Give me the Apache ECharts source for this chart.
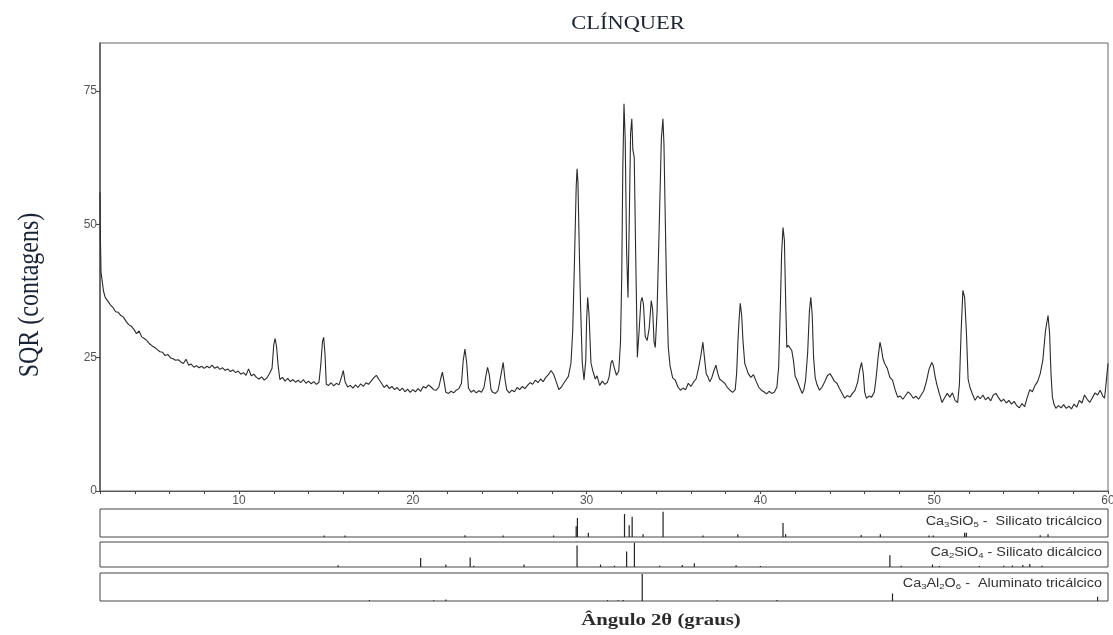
<!DOCTYPE html>
<html><head><meta charset="utf-8">
<script src="https://cdn.jsdelivr.net/npm/echarts@6/dist/echarts.min.js"></script>
<style>html,body{margin:0;padding:0;background:#fff}#c{width:1113px;height:635px}</style>
</head><body><div id="c"></div>
<script>
// Main diffractogram: [2θ (graus), SQR (contagens)]
const xrdPattern = [
[2.0,56],[2.02,48],[2.06,41],[2.12,39.5],[2.2,37.5],[2.3,36.3],[2.45,35.6],[2.6,34.9],[2.75,34.4],[2.9,33.6],[3.05,33.5],[3.2,32.9],[3.35,32.6],[3.5,31.8],[3.65,31.2],[3.8,30.9],[3.95,30.3],[4.1,29.5],[4.25,30.0],[4.4,28.9],[4.55,28.6],[4.7,28.2],[4.85,27.6],[5.0,27.2],[5.15,26.9],[5.3,26.5],[5.45,26.1],[5.6,26.0],[5.75,25.4],[5.9,25.6],[6.05,25.0],[6.2,24.8],[6.35,24.5],[6.5,24.6],[6.65,24.2],[6.8,23.9],[6.95,24.7],[7.1,23.6],[7.25,23.8],[7.4,23.2],[7.55,23.5],[7.7,23.1],[7.85,23.4],[8.0,23.0],[8.15,23.4],[8.3,23.1],[8.45,23.6],[8.6,23.0],[8.75,23.3],[8.9,22.8],[9.05,23.1],[9.2,22.6],[9.35,22.9],[9.5,22.4],[9.65,22.7],[9.8,22.2],[9.95,22.5],[10.1,21.9],[10.25,22.2],[10.4,21.7],[10.55,22.9],[10.7,21.6],[10.85,21.9],[11.0,21.3],[11.15,21.0],[11.3,21.4],[11.45,20.8],[11.6,21.2],[11.75,22.0],[11.9,23.0],[12.0,27.5],[12.08,28.6],[12.16,27.0],[12.25,23.5],[12.35,20.9],[12.5,21.3],[12.65,20.6],[12.8,21.1],[12.95,20.5],[13.1,20.9],[13.25,20.4],[13.4,20.8],[13.55,20.3],[13.7,20.9],[13.85,20.2],[14.0,20.6],[14.15,20.1],[14.3,20.5],[14.45,20.0],[14.6,20.4],[14.7,23.5],[14.8,28.0],[14.87,28.8],[14.95,25.5],[15.02,20.0],[15.15,19.8],[15.3,20.3],[15.45,19.7],[15.6,20.2],[15.75,19.9],[15.9,21.4],[16.0,22.6],[16.1,20.5],[16.25,19.5],[16.4,19.8],[16.55,19.3],[16.7,19.9],[16.85,19.4],[17.0,20.1],[17.15,19.6],[17.3,20.3],[17.45,20.0],[17.6,20.6],[17.75,21.2],[17.9,21.7],[18.05,20.9],[18.2,20.2],[18.35,19.4],[18.5,19.9],[18.65,19.2],[18.8,19.6],[18.95,19.0],[19.1,19.4],[19.25,18.8],[19.4,19.3],[19.55,18.6],[19.7,19.1],[19.85,18.5],[20.0,19.0],[20.15,18.6],[20.3,19.2],[20.45,18.7],[20.6,19.6],[20.75,19.3],[20.9,19.9],[21.05,19.5],[21.2,19.0],[21.35,18.9],[21.5,19.5],[21.6,21.0],[21.7,22.3],[21.8,20.5],[21.9,18.5],[22.05,18.3],[22.2,18.7],[22.35,18.4],[22.5,18.9],[22.65,19.2],[22.8,20.2],[22.9,24.5],[23.0,26.6],[23.1,24.0],[23.2,19.3],[23.35,18.5],[23.5,18.9],[23.65,18.4],[23.8,18.8],[23.95,18.5],[24.1,19.5],[24.2,21.5],[24.3,23.2],[24.4,21.8],[24.5,19.0],[24.6,18.5],[24.75,18.3],[24.9,18.8],[25.0,20.5],[25.1,22.3],[25.2,24.1],[25.3,21.0],[25.4,19.0],[25.55,18.4],[25.7,18.9],[25.85,18.6],[26.0,19.4],[26.15,19.0],[26.3,19.6],[26.45,19.2],[26.6,19.8],[26.75,20.3],[26.9,20.0],[27.05,20.8],[27.2,20.3],[27.35,21.0],[27.5,20.5],[27.65,21.3],[27.8,21.8],[27.95,22.6],[28.1,21.9],[28.25,20.5],[28.4,19.0],[28.55,19.5],[28.7,20.3],[28.85,21.0],[28.95,21.5],[29.1,24.0],[29.2,30.0],[29.3,43.0],[29.4,57.0],[29.45,60.4],[29.5,58],[29.58,45.0],[29.65,35.0],[29.75,24.0],[29.85,20.8],[29.95,24.5],[30.0,32.0],[30.06,36.3],[30.14,33.0],[30.25,24.0],[30.35,22.6],[30.5,21.0],[30.6,21.6],[30.75,19.8],[30.9,20.6],[31.05,20.0],[31.2,20.4],[31.3,21.5],[31.4,24.0],[31.48,24.5],[31.6,23.0],[31.72,21.7],[31.85,22.5],[31.95,28.0],[32.02,40.0],[32.08,60],[32.15,72.6],[32.22,66],[32.3,45],[32.38,36.3],[32.45,50],[32.53,67],[32.6,69.8],[32.66,64],[32.74,62.5],[32.82,45],[32.92,25.1],[33.02,30.0],[33.12,35.5],[33.19,36.3],[33.27,35.0],[33.37,29.0],[33.48,28.2],[33.6,30.5],[33.72,35.7],[33.8,34.0],[33.88,28.0],[33.95,26.9],[34.05,33.3],[34.18,50.0],[34.3,66.0],[34.39,69.8],[34.45,65],[34.52,52.0],[34.6,38.0],[34.7,26.9],[34.8,23.5],[34.95,21.2],[35.1,20.8],[35.25,19.5],[35.4,18.9],[35.55,19.3],[35.7,19.0],[35.85,20.2],[36.0,19.6],[36.15,20.4],[36.3,21.0],[36.45,23.2],[36.58,25.5],[36.69,27.9],[36.78,25.0],[36.88,22.0],[36.98,21.4],[37.08,20.5],[37.2,21.2],[37.32,22.5],[37.44,23.6],[37.55,22.0],[37.65,21.0],[37.8,20.6],[37.95,20.2],[38.1,19.4],[38.25,18.9],[38.4,18.5],[38.55,19.0],[38.63,22.0],[38.72,29.0],[38.78,32.5],[38.84,35.2],[38.92,33],[39.0,28.0],[39.1,23.9],[39.2,23.0],[39.3,22.0],[39.45,21.3],[39.6,21.8],[39.75,20.6],[39.9,19.5],[40.05,18.9],[40.2,18.6],[40.35,18.2],[40.5,18.7],[40.65,18.3],[40.8,18.5],[40.95,19.5],[41.05,23.2],[41.15,35.0],[41.22,44.5],[41.3,49.4],[41.38,47.0],[41.45,36],[41.52,26.9],[41.6,27.3],[41.7,27.0],[41.8,26.4],[41.9,24.5],[42.0,21.5],[42.1,20.8],[42.25,19.5],[42.4,18.3],[42.5,19.0],[42.6,20.8],[42.72,26.0],[42.82,33.8],[42.9,36.3],[42.98,33.0],[43.06,25.0],[43.15,21.3],[43.25,20.0],[43.4,18.9],[43.55,19.5],[43.7,20.5],[43.85,21.6],[44.0,22.0],[44.1,21.5],[44.25,20.6],[44.4,20.2],[44.55,19.2],[44.7,18.3],[44.85,17.4],[45.0,17.9],[45.15,17.6],[45.3,18.3],[45.45,18.9],[45.6,20.5],[45.7,22.5],[45.82,24.1],[45.92,22.0],[46.0,18.5],[46.1,17.4],[46.25,17.8],[46.4,17.6],[46.55,18.5],[46.65,21.0],[46.77,25.0],[46.88,27.9],[46.97,26.5],[47.05,24.8],[47.15,23.9],[47.3,23.0],[47.45,21.3],[47.6,20.8],[47.75,19.0],[47.9,17.6],[48.05,17.8],[48.2,17.2],[48.35,17.9],[48.5,18.6],[48.65,18.1],[48.8,17.4],[48.95,17.8],[49.1,17.2],[49.25,18.0],[49.4,18.8],[49.55,20.5],[49.7,22.8],[49.86,24.1],[49.95,23.5],[50.05,21.5],[50.15,20.0],[50.3,18.2],[50.45,16.6],[50.6,17.5],[50.75,18.3],[50.9,17.6],[51.05,18.4],[51.2,17.0],[51.35,16.6],[51.45,20.0],[51.55,30.0],[51.65,37.6],[51.75,36.3],[51.85,30.0],[51.95,21.0],[52.05,19.5],[52.2,18.2],[52.35,17.0],[52.5,17.8],[52.65,17.3],[52.8,18.0],[52.95,17.1],[53.1,17.6],[53.25,16.9],[53.4,18.0],[53.55,18.3],[53.7,17.5],[53.85,16.8],[54.0,17.2],[54.15,16.5],[54.3,17.0],[54.45,16.3],[54.6,16.8],[54.75,16.0],[54.9,15.6],[55.05,16.4],[55.2,15.8],[55.35,17.5],[55.5,19.0],[55.65,18.6],[55.8,19.8],[55.95,20.5],[56.1,22.0],[56.25,24.5],[56.4,30.0],[56.55,32.9],[56.64,29.5],[56.72,22.0],[56.8,17.6],[56.9,16.2],[57.0,15.5],[57.15,16.0],[57.3,15.6],[57.45,16.2],[57.6,15.5],[57.75,15.9],[57.9,15.4],[58.05,16.3],[58.2,15.7],[58.35,17.0],[58.5,16.5],[58.65,18.0],[58.8,17.2],[58.95,16.6],[59.1,17.5],[59.25,18.4],[59.4,18.0],[59.55,18.9],[59.7,17.8],[59.8,17.4],[59.9,20.5],[60.0,23.9]
];

// Reference stick patterns (position 2θ, relative intensity 0..1)
const c3sPos = [14.9, 16.1, 23.0, 25.2, 28.1, 29.4, 29.47, 30.1, 32.18, 32.45, 32.62, 33.25, 34.4, 36.7, 38.7, 41.3, 41.45, 45.8, 46.9, 49.7, 49.95, 51.75, 51.85, 56.1, 56.55];
const c3sInt = [0.05, 0.05, 0.06, 0.05, 0.05, 0.38, 0.68, 0.15, 0.82, 0.42, 0.72, 0.1, 0.9, 0.05, 0.1, 0.5, 0.1, 0.07, 0.1, 0.05, 0.05, 0.15, 0.15, 0.06, 0.1];
const c2sPos = [15.7, 20.45, 21.9, 23.3, 23.5, 26.4, 29.45, 30.8, 31.6, 32.3, 32.75, 34.2, 35.5, 36.2, 38.6, 40.0, 47.45, 48.1, 49.9, 50.3, 52.6, 54.0, 54.5, 55.1, 55.5, 56.2];
const c2sInt = [0.07, 0.36, 0.1, 0.38, 0.05, 0.1, 0.86, 0.1, 0.05, 0.62, 0.97, 0.05, 0.08, 0.15, 0.07, 0.04, 0.47, 0.05, 0.1, 0.04, 0.04, 0.05, 0.06, 0.08, 0.12, 0.05];
const c3aPos = [17.5, 21.2, 21.9, 31.2, 31.8, 32.1, 33.2, 37.5, 40.95, 47.6, 59.4];
const c3aInt = [0.04, 0.03, 0.05, 0.03, 0.03, 0.04, 0.96, 0.03, 0.04, 0.27, 0.15];

const phaseLabels = [
  '{n|Ca}{s|3}{n|SiO}{s|5}{n| -  Silicato tricálcico}',
  '{n|Ca}{s|2}{n|SiO}{s|4}{n| - Silicato dicálcico}',
  '{n|Ca}{s|3}{n|Al}{s|2}{n|O}{s|6}{n| -  Aluminato tricálcico}'
];
const yTicks = [0, 25, 50, 75];

const chart = echarts.init(document.getElementById('c'), null, {renderer: 'canvas'});

function zip(a, b) { return a.map((v, i) => [v, b[i]]); }
function stickSeries(idx, pos, inten) {
  return {
    type: 'custom', xAxisIndex: idx, yAxisIndex: idx, silent: true,
    data: zip(pos, inten),
    renderItem: function (params, api) {
      const x = api.value(0), h = api.value(1);
      const p0 = api.coord([x, 0]), p1 = api.coord([x, h]);
      return {type: 'line', shape: {x1: p0[0], y1: p0[1], x2: p1[0], y2: p1[1]},
        style: {stroke: '#222', lineWidth: 1.2}};
    }
  };
}
const L = 100, W = 1008;
const panels = [[509, 28], [542, 25], [573, 28]];
const grids = [{left: L, top: 43, width: W, height: 448, show: true, borderColor: '#666', borderWidth: 1, outerBoundsMode: 'none', containLabel: false}];
panels.forEach(p => grids.push({left: L, top: p[0], width: W, height: p[1], show: true, borderColor: '#444', borderWidth: 1, outerBoundsMode: 'none', containLabel: false}));

const xAxes = [{
  gridIndex: 0, type: 'value', min: 2, max: 60, interval: 2,
  axisLine: {show: true, lineStyle: {color: '#555', width: 1}},
  axisTick: {show: true, length: 3, lineStyle: {color: '#444'}},
  axisLabel: {formatter: v => (v % 10 === 0 ? String(v) : ''), color: '#555', fontSize: 12, fontFamily: 'Liberation Sans', margin: 4},
  splitLine: {show: false}
}];
const yAxes = [{
  gridIndex: 0, type: 'value', min: 0, max: 84, interval: 25,
  axisLine: {show: true, lineStyle: {color: '#555', width: 1.5}},
  axisTick: {show: true, length: 4, lineStyle: {color: '#444'}, customValues: yTicks},
  axisLabel: {customValues: yTicks, color: '#555', fontSize: 12, fontFamily: 'Liberation Sans', margin: 3},
  splitLine: {show: false}
}];
for (let i = 1; i <= 3; i++) {
  xAxes.push({gridIndex: i, type: 'value', min: 2, max: 60, show: false});
  yAxes.push({gridIndex: i, type: 'value', min: 0, max: 1, show: false});
}

const labelY = [522, 553, 584];
const graphics = [
  {type: 'text', x: 628, y: 24, scaleX: 1.18, style: {text: 'CLÍNQUER', fontSize: 19, fontFamily: 'Liberation Serif', fill: '#1b2230', align: 'center', verticalAlign: 'middle'}},
  {type: 'text', x: 30, y: 295, rotation: Math.PI / 2, scaleY: 1.2, style: {text: 'SQR (contagens)', fontSize: 24, fontFamily: 'Liberation Serif', fill: '#1b2436', align: 'center', verticalAlign: 'middle'}},
  {type: 'text', x: 661, y: 621, scaleX: 1.22, style: {text: 'Ângulo 2θ (graus)', fontSize: 17, fontWeight: 'bold', fontFamily: 'Liberation Serif', fill: '#2a2a2a', align: 'center', verticalAlign: 'middle'}}
];
phaseLabels.forEach((t, i) => graphics.push({
  type: 'text', x: 1102, y: labelY[i], scaleX: 1.2,
  style: {text: t, align: 'right', verticalAlign: 'middle',
    rich: {n: {fontSize: 12, fontFamily: 'Liberation Sans', fill: '#333', lineHeight: 14},
           s: {fontSize: 8, fontFamily: 'Liberation Sans', fill: '#333', lineHeight: 14, padding: [6, 0, 0, 0]}}}
}));

chart.setOption({
  animation: false,
  backgroundColor: '#fff',
  grid: grids, xAxis: xAxes, yAxis: yAxes,
  graphic: graphics,
  series: [
    {type: 'line', xAxisIndex: 0, yAxisIndex: 0, data: xrdPattern, showSymbol: false, symbol: 'none',
     lineStyle: {color: '#2a2a2a', width: 1.1}, silent: true},
    stickSeries(1, c3sPos, c3sInt),
    stickSeries(2, c2sPos, c2sInt),
    stickSeries(3, c3aPos, c3aInt)
  ]
});
</script></body></html>
